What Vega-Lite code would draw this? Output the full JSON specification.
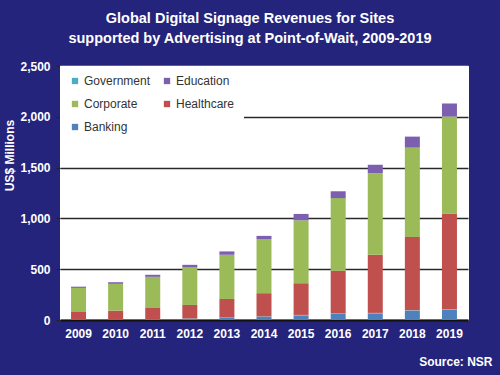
{
  "$schema": "https://vega.github.io/schema/vega-lite/v6.json",
  "width": 408,
  "height": 254,
  "autosize": {"type": "none"},
  "padding": {"left": 60, "top": 66, "right": 32, "bottom": 55},
  "background": "#24247c",
  "title": {
    "text": ["Global Digital Signage Revenues for Sites", "supported by Advertising at Point-of-Wait, 2009-2019"],
    "color": "white",
    "font": "Liberation Sans",
    "fontWeight": "bold",
    "fontSize": 14.5,
    "lineHeight": 20,
    "anchor": "middle",
    "frame": "group",
    "dx": -14,
    "offset": 14
  },
  "data": {
    "values": [
      {"year": "2009", "segment": "Banking", "value": 3},
      {"year": "2009", "segment": "Government", "value": 2},
      {"year": "2009", "segment": "Healthcare", "value": 80},
      {"year": "2009", "segment": "Corporate", "value": 231},
      {"year": "2009", "segment": "Education", "value": 12},
      {"year": "2010", "segment": "Banking", "value": 3},
      {"year": "2010", "segment": "Government", "value": 2},
      {"year": "2010", "segment": "Healthcare", "value": 87},
      {"year": "2010", "segment": "Corporate", "value": 264},
      {"year": "2010", "segment": "Education", "value": 16},
      {"year": "2011", "segment": "Banking", "value": 5},
      {"year": "2011", "segment": "Government", "value": 3},
      {"year": "2011", "segment": "Healthcare", "value": 110},
      {"year": "2011", "segment": "Corporate", "value": 307},
      {"year": "2011", "segment": "Education", "value": 20},
      {"year": "2012", "segment": "Banking", "value": 10},
      {"year": "2012", "segment": "Government", "value": 5},
      {"year": "2012", "segment": "Healthcare", "value": 133},
      {"year": "2012", "segment": "Corporate", "value": 369},
      {"year": "2012", "segment": "Education", "value": 26},
      {"year": "2013", "segment": "Banking", "value": 20},
      {"year": "2013", "segment": "Government", "value": 5},
      {"year": "2013", "segment": "Healthcare", "value": 182},
      {"year": "2013", "segment": "Corporate", "value": 435},
      {"year": "2013", "segment": "Education", "value": 33},
      {"year": "2014", "segment": "Banking", "value": 30},
      {"year": "2014", "segment": "Government", "value": 5},
      {"year": "2014", "segment": "Healthcare", "value": 229},
      {"year": "2014", "segment": "Corporate", "value": 533},
      {"year": "2014", "segment": "Education", "value": 31},
      {"year": "2015", "segment": "Banking", "value": 45},
      {"year": "2015", "segment": "Government", "value": 5},
      {"year": "2015", "segment": "Healthcare", "value": 312},
      {"year": "2015", "segment": "Corporate", "value": 619},
      {"year": "2015", "segment": "Education", "value": 63},
      {"year": "2016", "segment": "Banking", "value": 60},
      {"year": "2016", "segment": "Government", "value": 5},
      {"year": "2016", "segment": "Healthcare", "value": 419},
      {"year": "2016", "segment": "Corporate", "value": 716},
      {"year": "2016", "segment": "Education", "value": 67},
      {"year": "2017", "segment": "Banking", "value": 65},
      {"year": "2017", "segment": "Government", "value": 5},
      {"year": "2017", "segment": "Healthcare", "value": 572},
      {"year": "2017", "segment": "Corporate", "value": 801},
      {"year": "2017", "segment": "Education", "value": 85},
      {"year": "2018", "segment": "Banking", "value": 90},
      {"year": "2018", "segment": "Government", "value": 5},
      {"year": "2018", "segment": "Healthcare", "value": 722},
      {"year": "2018", "segment": "Corporate", "value": 880},
      {"year": "2018", "segment": "Education", "value": 108},
      {"year": "2019", "segment": "Banking", "value": 100},
      {"year": "2019", "segment": "Government", "value": 5},
      {"year": "2019", "segment": "Healthcare", "value": 942},
      {"year": "2019", "segment": "Corporate", "value": 956},
      {"year": "2019", "segment": "Education", "value": 128}
    ]
  },
  "transform": [
    {"calculate": "indexof(['Banking','Government','Healthcare','Corporate','Education'], datum.segment)", "as": "stackOrder"}
  ],
  "mark": {"type": "bar", "width": 15},
  "encoding": {
    "x": {
      "field": "year",
      "type": "ordinal",
      "scale": {"paddingInner": 0.6, "paddingOuter": 0.3},
      "axis": {
        "title": "Source: NSR",
        "titleAnchor": "end",
        "titleAlign": "right",
        "titleBaseline": "bottom",
        "titleX": 432,
        "titleY": 48,
        "titleColor": "white",
        "titleFont": "Liberation Sans",
        "titleFontSize": 12,
        "titleFontWeight": "bold",
        "labelAngle": 0,
        "labelColor": "white",
        "labelFont": "Liberation Sans",
        "labelFontWeight": "bold",
        "labelFontSize": 12,
        "labelPadding": 8,
        "ticks": false,
        "domainColor": "#111111",
        "domainWidth": 2
      }
    },
    "y": {
      "field": "value",
      "type": "quantitative",
      "stack": "zero",
      "scale": {"domain": [0, 2500]},
      "axis": {
        "title": "US$ Millions",
        "titleColor": "white",
        "titleFont": "Liberation Sans",
        "titleFontSize": 12,
        "titleFontWeight": "bold",
        "titlePadding": 3,
        "titleY": 89,
        "titleAlign": "center",
        "values": [0, 500, 1000, 1500, 2000, 2500],
        "format": ",.0f",
        "labelColor": "white",
        "labelFont": "Liberation Sans",
        "labelFontWeight": "bold",
        "labelFontSize": 12,
        "labelPadding": 6,
        "domain": false,
        "tickColor": "#222222",
        "tickSize": 4,
        "grid": true,
        "gridColor": {"condition": {"test": "datum.value >= 2500", "value": "white"}, "value": "#2a2a2a"},
        "gridWidth": 1.5
      }
    },
    "color": {
      "field": "segment",
      "type": "nominal",
      "scale": {
        "domain": ["Government", "Education", "Corporate", "Healthcare", "Banking"],
        "range": ["#4bacc6", "#7d5fb0", "#9bbb59", "#c0504d", "#4f81bd"]
      },
      "legend": {
        "title": null,
        "orient": "none",
        "legendX": 0,
        "legendY": 0,
        "direction": "horizontal",
        "columns": 2,
        "columnPadding": 10,
        "rowPadding": 11,
        "padding": 9,
        "fillColor": "white",
        "symbolType": "square",
        "symbolSize": 40,
        "symbolStrokeWidth": 0,
        "labelColor": "#333333",
        "labelFont": "Liberation Sans",
        "labelFontSize": 12,
        "labelOffset": 3
      }
    },
    "order": {"field": "stackOrder", "type": "quantitative"}
  },
  "config": {
    "view": {"fill": "white", "stroke": "white"}
  }
}
